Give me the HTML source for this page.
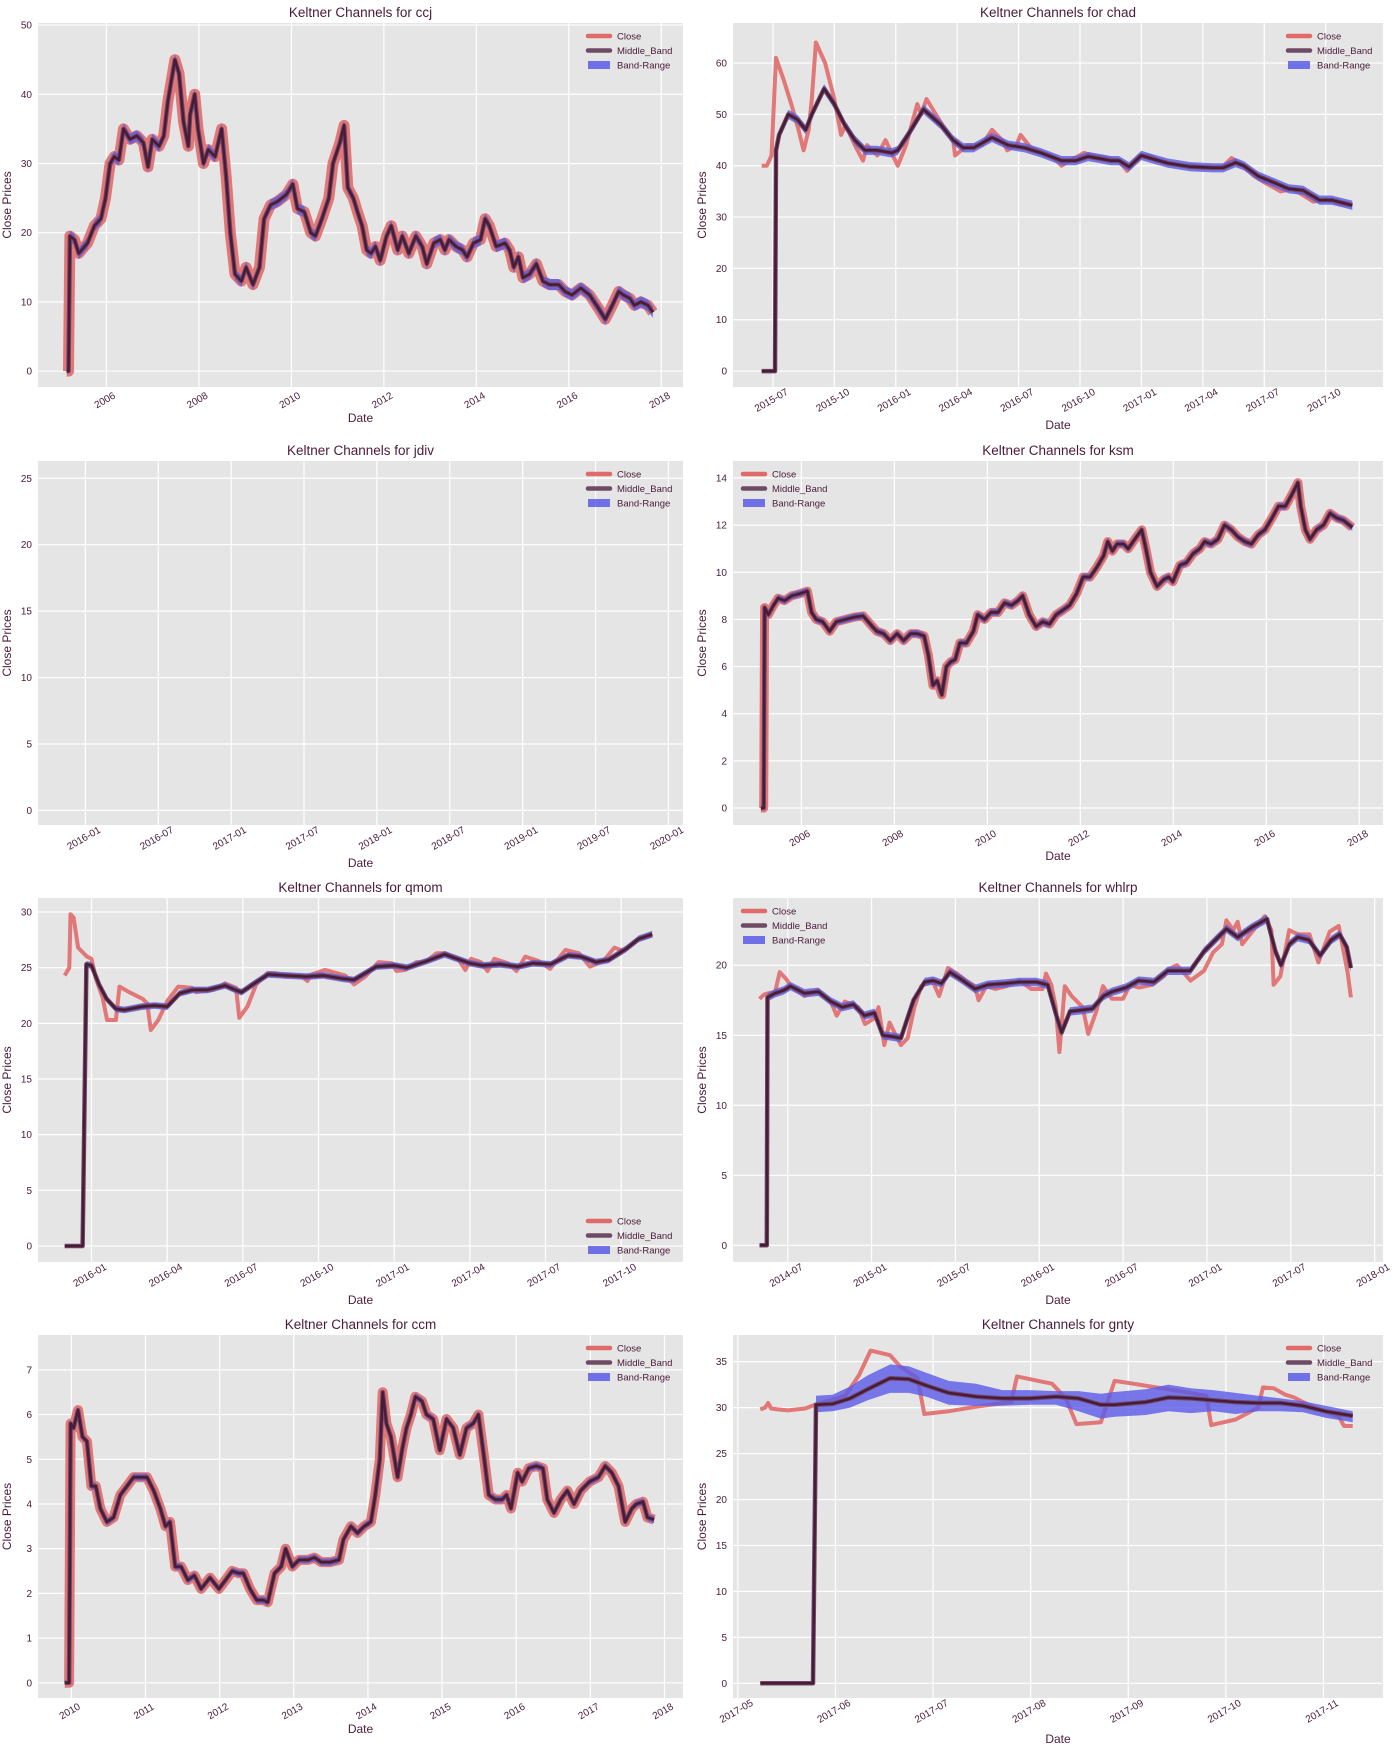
<!DOCTYPE html>
<html><head><meta charset="utf-8">
<style>
html,body{margin:0;padding:0;background:#fff;}
svg{display:block;font-family:"Liberation Sans",sans-serif;}
</style></head>
<body>
<svg id="fig" width="1400" height="1752" viewBox="0 0 1400 1752" xmlns="http://www.w3.org/2000/svg"></svg>
<script>
// ===== ccj (dates in decimal years) =====
const ccjDates=[2005.14,2005.18,2005.21,2005.31,2005.40,2005.59,2005.74,2005.88,2005.98,2006.08,2006.17,2006.27,2006.37,2006.51,2006.66,2006.80,2006.90,2006.99,2007.14,2007.24,2007.33,2007.48,2007.57,2007.67,2007.77,2007.81,2007.91,2007.98,2008.10,2008.20,2008.35,2008.49,2008.59,2008.68,2008.78,2008.92,2009.02,2009.17,2009.31,2009.41,2009.55,2009.70,2009.89,2010.03,2010.13,2010.28,2010.42,2010.52,2010.66,2010.81,2010.90,2011.05,2011.14,2011.22,2011.34,2011.43,2011.53,2011.63,2011.72,2011.82,2011.92,2012.06,2012.16,2012.30,2012.40,2012.54,2012.69,2012.83,2012.93,2013.08,2013.22,2013.32,2013.41,2013.56,2013.70,2013.80,2013.94,2014.09,2014.19,2014.28,2014.43,2014.62,2014.72,2014.81,2014.91,2015.01,2015.15,2015.30,2015.44,2015.58,2015.78,2015.92,2016.07,2016.26,2016.45,2016.65,2016.79,2016.94,2017.08,2017.18,2017.32,2017.42,2017.56,2017.71,2017.82];
const ccjMid=[0,0,19.5,19,17,18.5,21,22,25,30,31,30.5,35,33.5,34,33,29.5,33.5,32.5,34,39,45,43,36,32.5,37,40,35,30,32,31,35,28,20,14,13,15,12.5,15,22,24,24.5,25.5,27,23.5,23,20,19.5,22,25,30,33,35.5,26.5,25,23,21,17.5,17,18,16,19.5,21,17.5,19.5,17,19.5,18,15.5,18.5,19,17.5,19,18,17.5,16.5,18.5,19,22,21,18,18.5,17.5,15,16.5,13.5,14,15.5,13,12.5,12.5,11.5,11,12,11,9,7.5,9.5,11.5,11,10.5,9.5,10,9.5,8.5];
// ===== chad (months since 2015-07) =====
const chadCloseDates=[-0.55,-0.3,-0.07,0.15,0.5,0.9,1.25,1.5,1.75,1.9,2.1,2.55,3.0,3.33,3.55,4.0,4.4,4.6,5.1,5.5,6.1,6.5,7.05,7.25,7.5,8.27,8.8,8.9,9.5,10.2,10.7,11.2,11.45,11.9,12.1,12.6,13.2,13.6,14.1,14.5,15.2,15.6,16.3,16.9,17.3,17.9,18.4,19.1,20.0,20.6,21.5,21.9,22.4,22.8,23.5,23.9,24.8,25.4,26.4,27.0,27.7,28.3];
const chadClose=[40,40,42,61,57,52,47,43,47,53,64,60,53,46,48,44,41,44,42,45,40,44,52,50,53,48,45,42,44,44,47,45,43,44,46,43.5,42.5,42,40,41,42.5,42,41.5,41,39,42,42,40.5,40,40,39.5,39.5,41.5,40.5,38,37,35,35.5,33,33.5,32.5,32.3];
const chadMidDates=[-0.55,0.1,0.15,0.3,0.75,1.2,1.6,1.9,2.5,3.0,3.5,4.0,4.5,5.1,5.8,6.1,6.6,7.35,8.2,8.8,9.3,9.8,10.7,11.5,12.3,13.1,14.1,14.8,15.4,16.5,16.9,17.4,18.0,18.4,19.3,20.4,21.5,22.0,22.6,23.0,23.7,24.3,25.2,25.9,26.7,27.3,27.8,28.3];
const chadMid=[0,0,43,46,50,49,47,50,55,52,48,45,43,43,42.5,43,46,51,48,45,43.5,43.5,45.5,44,43.5,42.5,41,41,41.8,41,41,39.8,42,41.5,40.5,39.8,39.6,39.6,40.6,40,38,37,35.5,35.2,33.3,33.3,32.8,32.3];
// ===== ksm (decimal years) =====
const ksmDates=[2005.13,2005.19,2005.21,2005.29,2005.40,2005.50,2005.64,2005.79,2005.98,2006.13,2006.22,2006.32,2006.46,2006.61,2006.75,2006.95,2007.14,2007.33,2007.48,2007.62,2007.77,2007.91,2008.06,2008.20,2008.35,2008.49,2008.64,2008.73,2008.83,2008.92,2009.02,2009.12,2009.21,2009.31,2009.41,2009.55,2009.70,2009.79,2009.94,2010.08,2010.23,2010.37,2010.52,2010.66,2010.76,2010.90,2011.05,2011.19,2011.34,2011.48,2011.63,2011.77,2011.92,2012.06,2012.21,2012.35,2012.50,2012.59,2012.69,2012.79,2012.93,2013.03,2013.17,2013.32,2013.41,2013.51,2013.65,2013.80,2013.90,2013.99,2014.14,2014.28,2014.43,2014.57,2014.67,2014.81,2014.96,2015.10,2015.25,2015.39,2015.54,2015.68,2015.83,2015.97,2016.12,2016.26,2016.41,2016.55,2016.68,2016.74,2016.84,2016.94,2017.08,2017.23,2017.37,2017.52,2017.66,2017.85];
const ksmMid=[0,0,8.5,8.2,8.6,8.9,8.8,9.0,9.1,9.2,8.3,8.0,7.9,7.5,7.9,8.0,8.1,8.15,7.8,7.5,7.4,7.1,7.4,7.1,7.4,7.4,7.3,6.5,5.2,5.4,4.8,6.0,6.2,6.3,7.0,7.0,7.5,8.2,8.0,8.3,8.3,8.7,8.6,8.8,9.0,8.2,7.7,7.9,7.8,8.2,8.4,8.6,9.1,9.8,9.8,10.2,10.7,11.3,10.9,11.2,11.2,11.0,11.4,11.8,11.0,10.0,9.4,9.7,9.8,9.6,10.3,10.4,10.8,11.0,11.3,11.2,11.4,12.0,11.8,11.5,11.3,11.2,11.6,11.8,12.3,12.8,12.8,13.3,13.8,12.8,11.8,11.4,11.8,12.0,12.5,12.3,12.2,11.9];
// ===== qmom (months since 2016-01) =====
const qmomCloseDates=[-1.06,-0.88,-0.83,-0.71,-0.53,-0.18,0,0.18,0.44,0.62,0.97,1.11,1.5,2.03,2.21,2.35,2.65,3.0,3.44,3.97,4.15,4.85,5.29,5.73,5.86,6.18,6.53,6.97,7.32,7.68,8.29,8.56,8.73,9.26,10.06,10.41,10.85,11.38,11.91,12.09,12.44,12.88,13.23,13.68,14.03,14.56,14.82,15.05,15.44,15.7,15.97,16.5,16.85,17.2,17.73,18.18,18.79,19.32,19.76,20.29,20.73,21.09,21.62,22.23];
const qmomClose=[24.3,25,29.8,29.5,26.8,26,25.8,24,22.3,20.3,20.3,23.3,22.8,22.2,21.8,19.4,20.3,22,23.3,23.2,22.8,23,23.6,23.2,20.5,21.5,23.5,24.5,24.5,24.2,24.3,23.8,24.4,24.8,24.3,23.5,24.2,25.5,25.4,24.7,24.8,25.5,25.5,26.3,26.3,25.7,24.8,25.8,25.5,24.7,25.8,25.4,24.7,26,25.6,24.9,26.6,26.3,25.1,25.6,26.8,26.5,27.5,27.9];
const qmomMidDates=[-1.06,-0.35,-0.2,0,0.3,0.6,0.97,1.3,2.0,2.5,3.0,3.5,4.0,4.6,5.3,5.7,5.95,6.4,7.0,7.7,8.5,9.2,10.0,10.4,11.3,12.0,12.5,13.3,14.0,14.5,15.0,15.5,16.2,16.9,17.5,18.2,18.9,19.4,20.0,20.5,21.2,21.7,22.23];
const qmomMid=[0,0,25.3,25.2,23.5,22.2,21.3,21.2,21.5,21.6,21.5,22.7,23.0,23.0,23.4,23.0,22.8,23.5,24.4,24.3,24.2,24.3,24.0,23.9,25.1,25.2,25.0,25.6,26.2,25.8,25.4,25.2,25.3,25.1,25.4,25.3,26.1,26.0,25.5,25.7,26.7,27.6,28.0];
// ===== whlrp (months since 2014-07) =====
const whlrpCloseDates=[-2.02,-1.70,-1.38,-0.9,-0.58,-0.1,0.22,1.19,2.15,3.12,3.5,4.08,5.04,5.53,6.17,6.49,6.91,7.29,7.78,8.1,8.58,9.06,9.54,10.35,10.83,11.47,12.11,12.76,13.4,13.66,14.2,14.85,15.65,16.61,17.42,18.22,18.48,18.86,19.18,19.44,19.83,20.31,21.11,21.5,22.08,22.56,23.2,24.0,24.49,25.13,26.09,26.9,27.22,27.86,28.82,29.79,30.43,31.07,31.39,31.88,32.2,32.52,33.16,34.13,34.61,34.77,35.25,35.89,36.54,37.34,37.98,38.79,39.43,40.07,40.3];
const whlrpClose=[17.6,17.9,18.0,18.1,19.5,19.0,18.5,17.8,18.2,17.3,16.4,17.4,17.0,15.8,16.2,17.0,14.3,15.9,14.9,14.3,14.8,17.0,18.5,18.9,17.8,19.8,19.4,18.9,18.5,17.5,18.5,18.3,18.5,18.9,18.3,18.3,19.4,18.6,17.0,13.8,18.5,17.8,17.0,15.1,16.7,18.5,17.6,17.6,18.6,18.4,18.6,19.2,19.7,20.0,18.9,19.6,20.9,21.5,23.2,22.5,23.1,21.5,22.3,23.5,22.5,18.6,19.2,22.5,22.2,22.2,20.2,22.4,22.8,19.5,17.7];
const whlrpMidDates=[-2.02,-1.5,-1.45,-0.9,-0.3,0.2,1.2,2.2,3.1,3.9,4.7,5.5,6.2,6.8,7.5,8.1,9.0,9.8,10.4,11.0,11.6,12.4,13.4,14.3,15.6,16.6,17.8,18.6,19.2,19.6,20.2,21.1,21.8,22.6,23.2,24.2,25.1,26.2,27.2,28.0,28.8,29.8,30.6,31.4,32.2,33.2,34.3,34.9,35.3,35.9,36.5,37.3,38.1,38.9,39.5,40.0,40.3];
const whlrpMid=[0,0,17.7,18.0,18.2,18.5,18.0,18.1,17.4,17.0,17.2,16.4,16.6,15.0,14.9,14.8,17.5,18.8,18.9,18.7,19.5,19.0,18.3,18.6,18.7,18.8,18.8,18.6,16.5,15.2,16.7,16.8,16.9,17.8,18.1,18.4,18.9,18.8,19.6,19.6,19.6,21.0,21.8,22.6,22.0,22.7,23.3,21.0,20.0,21.5,22.0,21.8,20.7,21.8,22.2,21.3,19.8];
// ===== ccm (decimal years) =====
const ccmDates=[2009.91,2009.97,2009.99,2010.03,2010.09,2010.15,2010.21,2010.27,2010.33,2010.39,2010.48,2010.57,2010.66,2010.75,2010.84,2010.93,2011.02,2011.11,2011.20,2011.27,2011.33,2011.40,2011.48,2011.57,2011.66,2011.75,2011.87,2011.99,2012.08,2012.17,2012.26,2012.32,2012.41,2012.50,2012.59,2012.65,2012.74,2012.83,2012.89,2012.98,2013.07,2013.19,2013.28,2013.37,2013.49,2013.61,2013.67,2013.77,2013.86,2013.95,2014.04,2014.10,2014.16,2014.20,2014.25,2014.31,2014.40,2014.46,2014.52,2014.58,2014.64,2014.73,2014.79,2014.88,2014.97,2015.06,2015.15,2015.24,2015.33,2015.42,2015.49,2015.57,2015.63,2015.72,2015.81,2015.87,2015.93,2016.02,2016.08,2016.17,2016.27,2016.36,2016.42,2016.51,2016.60,2016.69,2016.78,2016.87,2016.99,2017.11,2017.20,2017.29,2017.38,2017.47,2017.56,2017.62,2017.71,2017.77,2017.86];
const ccmMid=[0,0,5.8,5.7,6.1,5.5,5.4,4.4,4.4,3.9,3.6,3.7,4.2,4.4,4.6,4.6,4.6,4.3,3.9,3.5,3.6,2.6,2.6,2.3,2.4,2.1,2.35,2.1,2.3,2.5,2.45,2.45,2.1,1.85,1.85,1.8,2.45,2.6,3.0,2.6,2.75,2.75,2.8,2.7,2.7,2.75,3.2,3.5,3.35,3.5,3.6,4.2,5.0,6.5,5.8,5.5,4.6,5.2,5.7,6.0,6.4,6.3,6.0,5.9,5.2,5.9,5.7,5.1,5.7,5.8,6.0,5.0,4.2,4.1,4.1,4.2,3.9,4.7,4.5,4.8,4.85,4.8,4.1,3.8,4.1,4.3,4.0,4.3,4.5,4.6,4.85,4.7,4.4,3.6,3.9,4.0,4.05,3.7,3.65];
// ===== gnty (months since 2017-05) =====
const gntyCloseDates=[0.23,0.28,0.31,0.34,0.41,0.51,0.69,0.79,1.1,1.24,1.36,1.56,1.66,1.84,1.91,2.16,2.44,2.8,2.86,3.08,3.22,3.36,3.47,3.72,3.86,4.05,4.23,4.46,4.8,4.85,5.1,5.33,5.38,5.49,5.61,5.7,5.79,5.93,6.16,6.21,6.3];
const gntyClose=[29.8,30.0,30.5,29.9,29.8,29.7,29.9,30.3,31.3,33.5,36.2,35.7,34.5,33.2,29.3,29.6,30.1,30.6,33.4,32.9,32.6,31.0,28.2,28.4,32.9,32.6,32.3,31.9,31.3,28.1,28.7,30.0,32.2,32.1,31.4,31.1,30.6,29.9,29.0,28.0,28.0];
const gntyMidDates=[0.23,0.77,0.8,0.97,1.15,1.33,1.56,1.75,1.93,2.16,2.44,2.71,2.99,3.26,3.49,3.72,3.86,4.18,4.41,4.64,4.87,5.1,5.33,5.56,5.79,6.02,6.3];
const gntyMid=[0,0,30.3,30.4,31.0,32.0,33.2,33.1,32.4,31.6,31.2,31.0,31.0,31.2,31.0,30.3,30.3,30.6,31.1,31.0,30.8,30.6,30.5,30.5,30.2,29.6,29.1];
const gntyBandDates=[0.8,0.97,1.15,1.33,1.56,1.75,1.93,2.16,2.44,2.71,2.99,3.26,3.49,3.72,3.86,4.18,4.41,4.64,4.87,5.1,5.33,5.56,5.79,6.02,6.3];
const gntyUpper=[31.3,31.4,32.3,33.5,34.7,34.5,33.8,32.9,32.6,31.9,31.9,31.8,31.8,31.5,31.7,32.0,32.5,32.1,31.9,31.6,31.3,31.0,30.7,30.2,29.6];
const gntyLower=[29.5,29.6,30.0,30.8,31.6,31.6,31.2,30.3,30.2,30.2,30.3,30.3,29.6,28.8,29.0,29.2,29.6,29.4,29.6,29.3,29.6,29.6,29.5,28.9,28.4];
// ===== tick labels =====
const yearTicks2=[2006,2008,2010,2012,2014,2016,2018];
const ccmYearTicks=[2010,2011,2012,2013,2014,2015,2016,2017,2018];
const chadTickLabels=["2015-07","2015-10","2016-01","2016-04","2016-07","2016-10","2017-01","2017-04","2017-07","2017-10"];
const jdivTickLabels=["2016-01","2016-07","2017-01","2017-07","2018-01","2018-07","2019-01","2019-07","2020-01"];
const qmomTickLabels=["2016-01","2016-04","2016-07","2016-10","2017-01","2017-04","2017-07","2017-10"];
const whlrpTickLabels=["2014-07","2015-01","2015-07","2016-01","2016-07","2017-01","2017-07","2018-01"];
const gntyTickLabels=["2017-05","2017-06","2017-07","2017-08","2017-09","2017-10","2017-11"];

const NS="http://www.w3.org/2000/svg";
const svg=document.getElementById('fig');
const TXT="#4a1a3a";
function mk(tag,attrs,parent){const e=document.createElementNS(NS,tag);for(const k in attrs)e.setAttribute(k,attrs[k]);(parent||svg).appendChild(e);return e;}

function panel(c){
  const g=mk('g',{});
  
  
  const X=v=>c.L+(v-c.x0)/(c.x1-c.x0)*(c.R-c.L);
  const Y=v=>c.B-(v-c.y0)/(c.y1-c.y0)*(c.B-c.T);
  const bg=mk('rect',{x:c.L,y:c.T,width:c.R-c.L,height:c.B-c.T,fill:'#e5e5e5'},g);
  
  
  c.xt.forEach((v,i)=>{
    const x=X(v);
    mk('line',{x1:x,x2:x,y1:c.T,y2:c.B,stroke:'#fff','stroke-width':1.2},g);
    const t=mk('text',{x:x,y:c.B+16,'font-size':10,fill:TXT,'text-anchor':'middle',transform:`rotate(-30 ${x} ${c.B+16})`},g);
    t.textContent=c.xl[i];
    
    
  });
  for(let v=c.yStep*Math.ceil(c.y0/c.yStep);v<=c.y1;v+=c.yStep){
    if(v<0)continue;
    const y=Y(v);
    mk('line',{x1:c.L,x2:c.R,y1:y,y2:y,stroke:'#fff','stroke-width':1.2},g);
    const t=mk('text',{x:c.L-6,y:y+3.5,'font-size':10,fill:TXT,'text-anchor':'end'},g);
    t.textContent=String(v);
    
    
  }
  const clip='clip-'+c.id;
  const cp=mk('clipPath',{id:clip},g);mk('rect',{x:c.L,y:c.T,width:c.R-c.L,height:c.B-c.T},cp);
  const dg=mk('g',{'clip-path':`url(#${clip})`},g);
  const line=(xs,ys)=>xs.map((d,i)=>(i?'L':'M')+X(d).toFixed(1)+','+Y(ys[i]).toFixed(1)).join('');
  if(c.cx){
    const p=mk('path',{d:line(c.cx,c.cy),fill:'none',stroke:'#e06a6a','stroke-opacity':0.9,'stroke-width':c.cw||4,'stroke-linejoin':'round'},dg);
    
    
  }
  let bx=[],bu=[],bl=[];
  if(c.bu){bx=c.bx;bu=c.bu;bl=c.bl;}
  else if(c.mx){c.mx.forEach((d,i)=>{if(c.my[i]>0){bx.push(d);bu.push(c.my[i]+c.bw);bl.push(c.my[i]-c.bw);}});}
  if(bx.length){
    let d=bx.map((v,i)=>(i?'L':'M')+X(v).toFixed(1)+','+Y(bu[i]).toFixed(1)).join('');
    for(let i=bx.length-1;i>=0;i--)d+='L'+X(bx[i]).toFixed(1)+','+Y(bl[i]).toFixed(1);
    const p=mk('path',{d:d+'Z',fill:'#5a5ae8','fill-opacity':0.8},dg);
    
    
  }
  if(c.mx){
    const p=mk('path',{d:line(c.mx,c.my),fill:'none',stroke:'#6e4a64','stroke-width':4.5,'stroke-linejoin':'round'},dg);
    
    
    const q=mk('path',{d:line(c.mx,c.my),fill:'none',stroke:'#4a1a3a','stroke-width':2.5,'stroke-linejoin':'round'},dg);
    
    
  }
  const cxm=(c.L+c.R)/2;
  const tt=mk('text',{x:cxm,y:c.T-6,'font-size':13.5,fill:TXT,'text-anchor':'middle'},g);
  tt.textContent='Keltner Channels for '+c.id;
  
  
  const xl=mk('text',{x:cxm,y:c.B+c.dl,'font-size':12,fill:TXT,'text-anchor':'middle'},g);
  xl.textContent='Date';
  
  
  const yx=c.L-27, ym=(c.T+c.B)/2;
  const yl=mk('text',{x:yx,y:ym,'font-size':12,fill:TXT,'text-anchor':'middle',transform:`rotate(-90 ${yx} ${ym})`},g);
  yl.textContent='Close Prices';
  
  
  let lx,ly;
  if(c.leg==='ul'){lx=c.L+10;ly=c.T+13;}
  else if(c.leg==='lr'){lx=c.R-95;ly=c.B-41;}
  else {lx=c.R-95;ly=c.T+13;}
  const lg=mk('g',{},g);
  
  
  [['Close','#e06a6a','line'],['Middle_Band','#6e4a64','line'],['Band-Range','#5a5ae8','box']].forEach((e,i)=>{
    const y=ly+i*14.5;
    if(e[2]==='line'){const s=mk('line',{x1:lx,x2:lx+22,y1:y,y2:y,stroke:e[1],'stroke-width':4.5,'stroke-linecap':'round'},lg);
      }
    else {const s=mk('rect',{x:lx,y:y-4,width:22,height:8,fill:e[1],'fill-opacity':0.85},lg);
      }
    const t=mk('text',{x:lx+29,y:y+3.5,'font-size':9.5,fill:TXT},lg);
    t.textContent=e[0];
    
    
  });
}
const LC=[38,683], RC=[733,1383];
const rows=[[23,387],[461,825],[898,1262],[1335,1698]];
const idx=n=>Array.from({length:n},(_,i)=>i);
panel({id:'ccj',L:LC[0],R:LC[1],T:rows[0][0],B:rows[0][1],x0:2004.52,x1:2018.47,y0:-2.3,y1:50.3,yStep:10,
  xt:yearTicks2,xl:yearTicks2.map(String),dl:35,leg:'ur',cx:ccjDates,cy:ccjMid,cw:11,mx:ccjDates,my:ccjMid,bw:0.8});
panel({id:'chad',L:RC[0],R:RC[1],T:rows[0][0],B:rows[0][1],x0:-1.95,x1:29.8,y0:-3.1,y1:67.8,yStep:10,
  xt:idx(chadTickLabels.length).map(i=>i*3),xl:chadTickLabels,dl:42,leg:'ur',cx:chadCloseDates,cy:chadClose,cw:4,mx:chadMidDates,my:chadMid,bw:0.9});
panel({id:'jdiv',L:LC[0],R:LC[1],T:rows[1][0],B:rows[1][1],x0:-3.9,x1:49.2,y0:-1.1,y1:26.3,yStep:5,
  xt:idx(jdivTickLabels.length).map(i=>i*6),xl:jdivTickLabels,dl:42,leg:'ur'});
panel({id:'ksm',L:RC[0],R:RC[1],T:rows[1][0],B:rows[1][1],x0:2004.53,x1:2018.51,y0:-0.72,y1:14.72,yStep:2,
  xt:yearTicks2,xl:yearTicks2.map(String),dl:35,leg:'ul',cx:ksmDates,cy:ksmMid,cw:9,mx:ksmDates,my:ksmMid,bw:0.15});
panel({id:'qmom',L:LC[0],R:LC[1],T:rows[2][0],B:rows[2][1],x0:-2.12,x1:23.45,y0:-1.44,y1:31.26,yStep:5,
  xt:idx(qmomTickLabels.length).map(i=>i*3),xl:qmomTickLabels,dl:42,leg:'lr',cx:qmomCloseDates,cy:qmomClose,cw:4,mx:qmomMidDates,my:qmomMid,bw:0.3});
panel({id:'whlrp',L:RC[0],R:RC[1],T:rows[2][0],B:rows[2][1],x0:-3.92,x1:42.6,y0:-1.19,y1:24.8,yStep:5,
  xt:idx(whlrpTickLabels.length).map(i=>i*6),xl:whlrpTickLabels,dl:42,leg:'ul',cx:whlrpCloseDates,cy:whlrpClose,cw:4,mx:whlrpMidDates,my:whlrpMid,bw:0.3});
panel({id:'ccm',L:LC[0],R:LC[1],T:rows[3][0],B:rows[3][1],x0:2009.55,x1:2018.25,y0:-0.34,y1:7.78,yStep:1,
  xt:ccmYearTicks,xl:ccmYearTicks.map(String),dl:35,leg:'ur',cx:ccmDates,cy:ccmMid,cw:10,mx:ccmDates,my:ccmMid,bw:0.08});
panel({id:'gnty',L:RC[0],R:RC[1],T:rows[3][0],B:rows[3][1],x0:-0.05,x1:6.61,y0:-1.6,y1:37.9,yStep:5,
  xt:idx(gntyTickLabels.length),xl:gntyTickLabels,dl:45,leg:'ur',cx:gntyCloseDates,cy:gntyClose,cw:4,mx:gntyMidDates,my:gntyMid,bx:gntyBandDates,bu:gntyUpper,bl:gntyLower});
</script>
</body></html>
